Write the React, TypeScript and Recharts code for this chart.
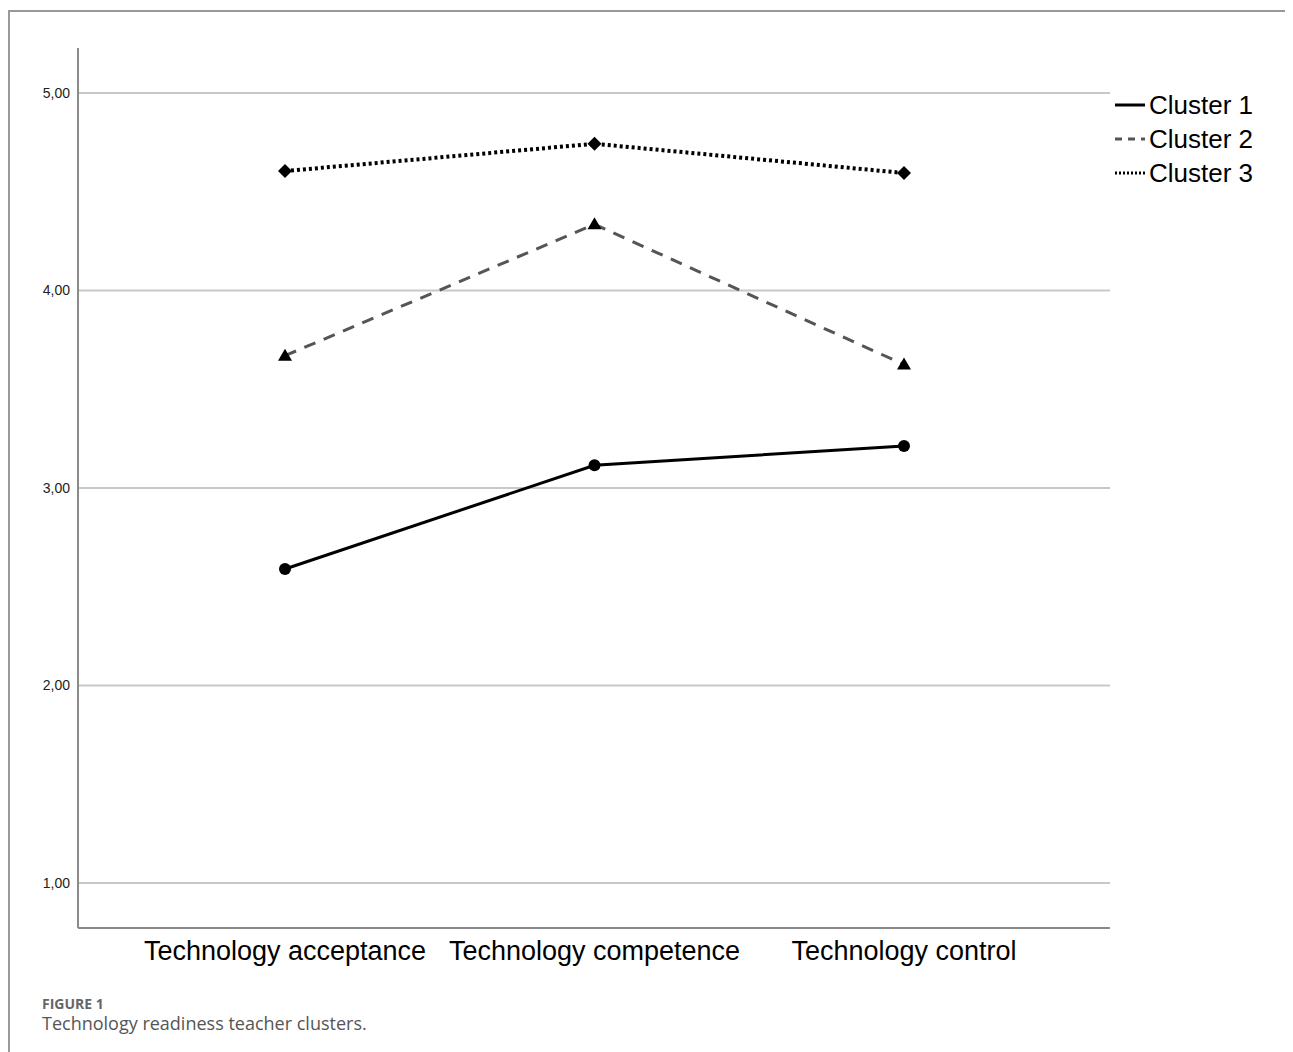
import { LineChart, Line, XAxis, YAxis, CartesianGrid } from 'recharts';

const categories = ['Technology acceptance', 'Technology competence', 'Technology control'];
const cluster1 = [2.59, 3.115, 3.213];
const cluster2 = [3.67, 4.335, 3.625];
const cluster3 = [4.605, 4.743, 4.595];
const yTicks = [1, 2, 3, 4, 5];

const data = categories.map((name, i) => ({
  name,
  c1: cluster1[i],
  c2: cluster2[i],
  c3: cluster3[i],
}));

const legendItems = [
  { label: 'Cluster 1', dash: undefined, color: '#000', width: 3 },
  { label: 'Cluster 2', dash: '7 6', color: '#555', width: 3 },
  { label: 'Cluster 3', dash: '2 2', color: '#000', width: 3 },
];

const CircleDot = (p: any) => <circle key={p.index} cx={p.cx} cy={p.cy} r={6} fill="#000" />;
const TriangleDot = (p: any) => (
  <path key={p.index} d={`M${p.cx},${p.cy - 7} L${p.cx + 7},${p.cy + 5} L${p.cx - 7},${p.cy + 5} Z`} fill="#000" />
);
const DiamondDot = (p: any) => (
  <path key={p.index} d={`M${p.cx},${p.cy - 7} L${p.cx + 7},${p.cy} L${p.cx},${p.cy + 7} L${p.cx - 7},${p.cy} Z`} fill="#000" />
);

function LegendBox() {
  return (
    <div style={{ fontFamily: '"Liberation Sans", Arial, sans-serif', fontSize: 26, color: '#000' }}>
      {legendItems.map((it) => (
        <div key={it.label} style={{ display: 'flex', alignItems: 'center', height: 34 }}>
          <svg width={36} height={10} style={{ marginRight: 2 }}>
            <line x1={4} y1={5} x2={34} y2={5} stroke={it.color} strokeWidth={it.width} strokeDasharray={it.dash} />
          </svg>
          <span>{it.label}</span>
        </div>
      ))}
    </div>
  );
}

export default function App() {
  return (
    <div
      style={{
        marginTop: 2,
        width: 1283,
        height: 1060,
        borderLeft: '2px solid #999',
        borderTop: '2px solid #999',
        borderRight: '2px solid #bbb',
        position: 'relative',
        boxSizing: 'border-box',
        background: '#fff',
      }}
    >
      <div style={{ position: 'absolute', left: 0, top: 0 }}>
        <LineChart width={1270} height={1000} data={data} margin={{ top: 36, right: 170, bottom: 34, left: 0 }}>
          <CartesianGrid horizontal vertical={false} stroke="#c8c8c8" strokeWidth={2} syncWithTicks />
          <XAxis
            dataKey="name"
            padding={{ left: 207, right: 206 }}
            stroke="#8a8a8a"
            strokeWidth={2}
            tickLine={false}
            tickSize={0}
            tickMargin={13}
            height={50}
            tick={{ fill: '#000', fontSize: 27, fontFamily: 'Liberation Sans, Arial, sans-serif' }}
          />
          <YAxis
            type="number"
            domain={[0.772, 5.228]}
            ticks={yTicks}
            width={68}
            stroke="#8a8a8a"
            strokeWidth={2}
            tickLine={false}
            tickSize={0}
            tickMargin={8}
            tickFormatter={(v: number) => v.toFixed(2).replace('.', ',')}
            tick={{ fill: '#222', fontSize: 14, fontFamily: 'Liberation Sans, Arial, sans-serif' }}
          />
          <Line dataKey="c1" stroke="#000" strokeWidth={3} dot={CircleDot} isAnimationActive={false} />
          <Line dataKey="c2" stroke="#555" strokeWidth={3} strokeDasharray="12 9" dot={TriangleDot} isAnimationActive={false} />
          <Line dataKey="c3" stroke="#000" strokeWidth={4} strokeDasharray="3 3" dot={DiamondDot} isAnimationActive={false} />
        </LineChart>
      </div>
      <div style={{ position: 'absolute', left: 1101, top: 76 }}>
        <LegendBox />
      </div>
      <div
        style={{
          position: 'absolute',
          left: 32,
          top: 982,
          fontFamily: '"Open Sans", Lato, sans-serif',
          color: '#666',
        }}
      >
        <div style={{ fontSize: 14, fontWeight: 700 }}>FIGURE 1</div>
        <div style={{ fontSize: 18, marginTop: -2, color: '#555' }}>Technology readiness teacher clusters.</div>
      </div>
    </div>
  );
}
